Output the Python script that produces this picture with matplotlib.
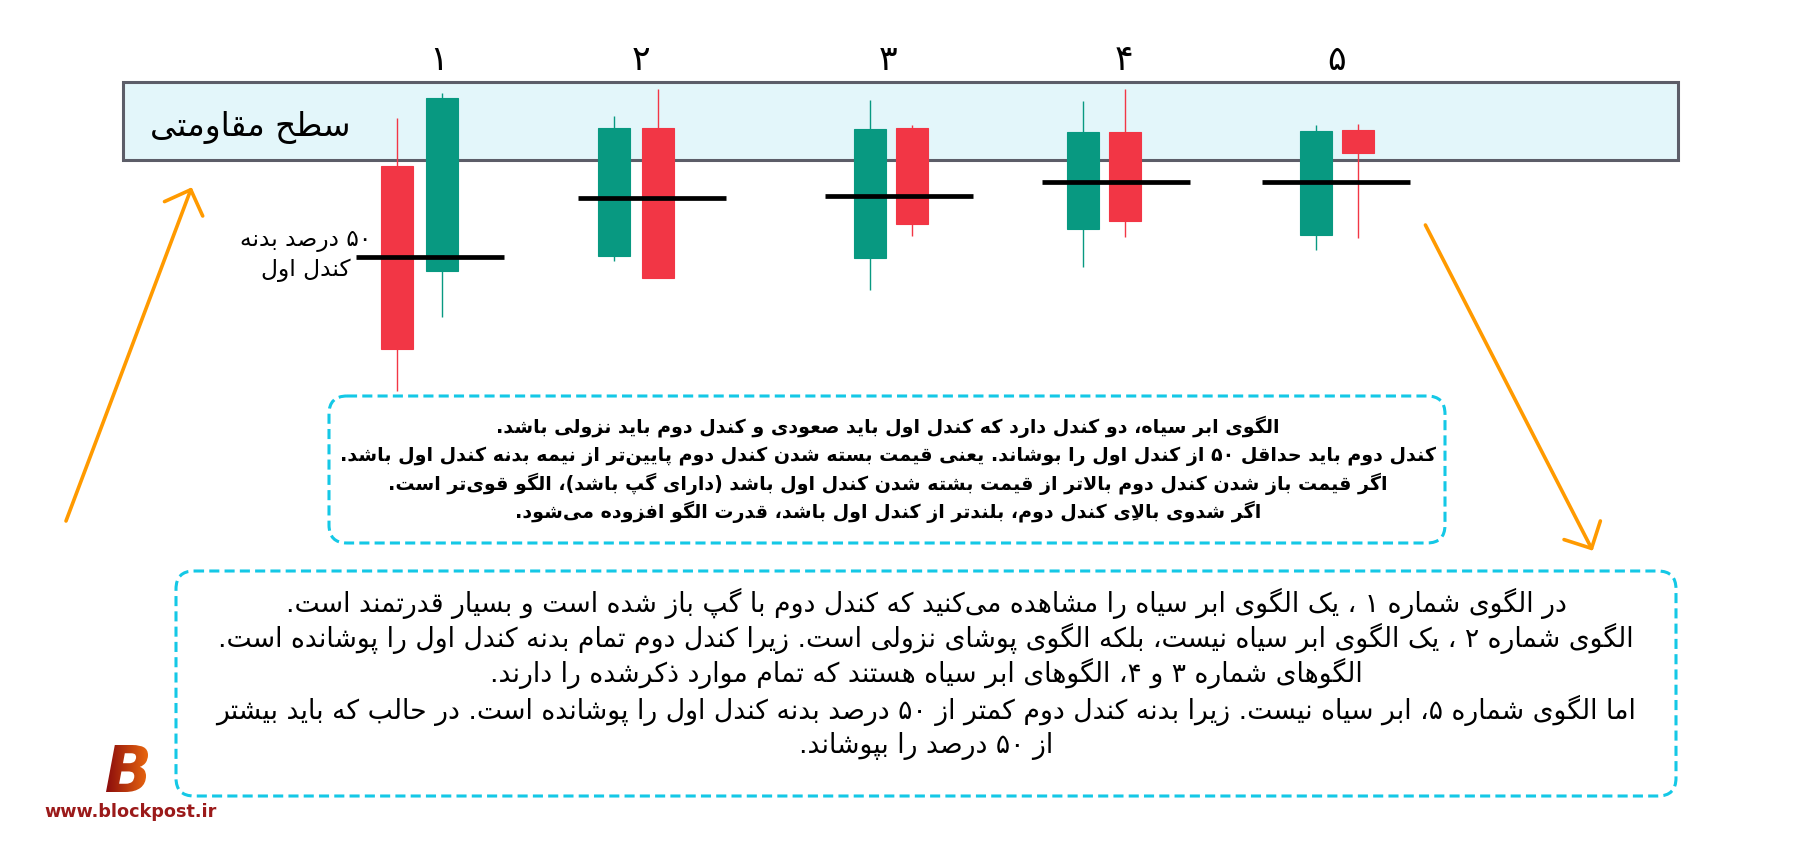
import matplotlib

matplotlib.use("Agg")
import matplotlib.pyplot as plt
import numpy as np
from matplotlib.colors import LinearSegmentedColormap
from matplotlib.font_manager import FontProperties
from matplotlib.patches import FancyArrowPatch, FancyBboxPatch, PathPatch, Rectangle
from matplotlib.textpath import TextPath
from matplotlib.transforms import Affine2D

# --------------------------------------------------------------------- #
# data
# --------------------------------------------------------------------- #
pattern_labels = ["۱", "۲", "۳", "۴", "۵"]
label_x = [439, 641, 888, 1124, 1337]

# two candles per pattern (time axis position, OHLC in price units)
candle_x = [397, 442, 614, 658, 869.5, 911.5, 1082.5, 1124.5, 1315.5, 1357.5]
opens = [997, 944.5, 952, 1016, 951, 1016, 965.5, 1014, 962.5, 1015]
highs = [1021, 1033.5, 1022, 1035.5, 1030, 1017.5, 1029.5, 1035.5, 1017.5, 1018]
lows = [884.5, 921.5, 949.5, 941, 935, 962, 946.5, 961.5, 955, 961]
closes = [905.5, 1031, 1016, 941, 1015.5, 968, 1014, 969.5, 1014.5, 1003.5]

# 50% body level drawn for each pattern
half_level = [951.5, 981, 982, 989, 989]
half_level_x = [430, 652, 898.5, 1115.5, 1336]

resistance = (1000, 1039)
resistance_label = "سطح مقاومتی"
half_label = ["۵۰ درصد بدنه", "کندل اول"]

box1_lines = [
    "الگوی ابر سیاه، دو کندل دارد که کندل اول باید صعودی و کندل دوم باید نزولی باشد.",
    "کندل دوم باید حداقل ۵۰ از کندل اول را بوشاند. یعنی قیمت بسته شدن کندل دوم پایین\u200cتر از نیمه بدنه کندل اول باشد.",
    "اگر قیمت باز شدن کندل دوم بالاتر از قیمت بشته شدن کندل اول باشد (دارای گپ باشد)، الگو قوی\u200cتر است.",
    "اگر شدوی بالایِ کندل دوم، بلندتر از کندل اول باشد، قدرت الگو افزوده می\u200cشود.",
]
box2_lines = [
    "در الگوی شماره ۱ ، یک الگوی ابر سیاه را مشاهده می\u200cکنید که کندل دوم با گپ باز شده است و بسیار قدرتمند است.",
    "الگوی شماره ۲ ، یک الگوی ابر سیاه نیست، بلکه الگوی پوشای نزولی است. زیرا کندل دوم تمام بدنه کندل اول را پوشانده است.",
    "الگوهای شماره ۳ و ۴، الگوهای ابر سیاه هستند که تمام موارد ذکرشده را دارند.",
    "اما الگوی شماره ۵، ابر سیاه نیست. زیرا بدنه کندل دوم کمتر از ۵۰ درصد بدنه کندل اول را پوشانده است. در حالب که باید بیشتر",
    "از ۵۰ درصد را بپوشاند.",
]
site = "www.blockpost.ir"

GREEN = "#089981"
RED = "#f23645"
ORANGE = "#ff9a00"
CYAN = "#14c8e6"

# --------------------------------------------------------------------- #
# helper: minimal arabic/persian shaping + right-to-left ordering
# --------------------------------------------------------------------- #
MARKS = set("\u064b\u064c\u064d\u064e\u064f\u0650\u0651\u0652")
DIGITS = set("0123456789۰۱۲۳۴۵۶۷۸۹")
MIRROR = {"(": ")", ")": "("}
_SPEC = [
    ("\u0622", 0xFE81, 2), ("\u0623", 0xFE83, 2), ("\u0624", 0xFE85, 2), ("\u0625", 0xFE87, 2),
    ("\u0626", 0xFE89, 4), ("\u0627", 0xFE8D, 2), ("\u0628", 0xFE8F, 4), ("\u0629", 0xFE93, 2),
    ("\u062a", 0xFE95, 4), ("\u062b", 0xFE99, 4), ("\u062c", 0xFE9D, 4), ("\u062d", 0xFEA1, 4),
    ("\u062e", 0xFEA5, 4), ("\u062f", 0xFEA9, 2), ("\u0630", 0xFEAB, 2), ("\u0631", 0xFEAD, 2),
    ("\u0632", 0xFEAF, 2), ("\u0633", 0xFEB1, 4), ("\u0634", 0xFEB5, 4), ("\u0635", 0xFEB9, 4),
    ("\u0636", 0xFEBD, 4), ("\u0637", 0xFEC1, 4), ("\u0638", 0xFEC5, 4), ("\u0639", 0xFEC9, 4),
    ("\u063a", 0xFECD, 4), ("\u0641", 0xFED1, 4), ("\u0642", 0xFED5, 4), ("\u0644", 0xFEDD, 4),
    ("\u0645", 0xFEE1, 4), ("\u0646", 0xFEE5, 4), ("\u0647", 0xFEE9, 4), ("\u0648", 0xFEED, 2),
    ("\u067e", 0xFB56, 4), ("\u0686", 0xFB7A, 4), ("\u0698", 0xFB8A, 2), ("\u06a9", 0xFB8E, 4),
    ("\u06af", 0xFB92, 4),
]
FORMS = {"\u0621": ("\ufe80", None, None, None), "\u06cc": ("\ufeef", "\ufef0", "\ufef3", "\ufef4")}
for _ch, _base, _n in _SPEC:
    FORMS[_ch] = tuple([chr(_base + i) for i in range(_n)] + [None] * (4 - _n))
LAM_ALEF = {"\u0627": ("\ufefb", "\ufefc"), "\u0622": ("\ufef5", "\ufef6"),
            "\u0623": ("\ufef7", "\ufef8"), "\u0625": ("\ufef9", "\ufefa")}


def _shape(s):
    chars = list(s.replace("\u064a", "\u06cc").replace("\u0643", "\u06a9"))
    n = len(chars)

    def near(i, step):
        j = i + step
        while 0 <= j < n and chars[j] in MARKS:
            j += step
        return j if 0 <= j < n else None

    out, skip = [], None
    for i, c in enumerate(chars):
        if i == skip or c == "\u200c":
            continue
        if c not in FORMS:
            out.append(c)
            continue
        ip, inx = near(i, -1), near(i, 1)
        prev = chars[ip] if ip is not None else None
        nxt = chars[inx] if inx is not None else None
        jp = prev in FORMS and FORMS[prev][2] is not None
        iso, fin, ini, med = FORMS[c]
        if c == "\u0644" and nxt in LAM_ALEF:
            out.append(LAM_ALEF[nxt][1 if jp else 0])
            skip = inx
            continue
        jn = ini is not None and nxt in FORMS and FORMS[nxt][1] is not None
        out.append(med if jp and jn else fin if jp else ini if jn else iso)
    return out


def fa(s):
    clusters = []
    for g in _shape(s):
        if g in MARKS and clusters:
            clusters[-1] += g
        else:
            clusters.append(g)
    runs = []
    for cl in clusters:
        num = cl[0] in DIGITS
        if runs and runs[-1][0] == num:
            runs[-1][1].append(cl)
        else:
            runs.append((num, [cl]))
    out = []
    for num, cls in reversed(runs):
        out += cls if num else [MIRROR.get(c, c) for c in reversed(cls)]
    return "".join(out)


# --------------------------------------------------------------------- #
# figure: price axes (candles) + layout axes (pixel-like, y down)
# --------------------------------------------------------------------- #
plt.rcParams["font.family"] = ["DejaVu Sans"]
fig = plt.figure(figsize=(18.2, 8.45), dpi=100)
fig.patch.set_facecolor("white")

pax = fig.add_axes([0, 0, 1, 1])
pax.set_xlim(0, 1820)
pax.set_ylim(658, 1080.5)
pax.axis("off")

ax = fig.add_axes([0, 0, 1, 1])
ax.set_xlim(0, 1820)
ax.set_ylim(845, 0)
ax.axis("off")
ax.patch.set_alpha(0)

renderer = fig.canvas.get_renderer()


def fit(lines, width, **kw):
    ws = []
    for s in lines:
        t = ax.text(0, 0, fa(s), fontsize=10, **kw)
        ws.append(t.get_window_extent(renderer).width)
        t.remove()
    return 10 * width / max(ws)


# resistance zone
pax.add_patch(Rectangle((123, resistance[0]), 1555, resistance[1] - resistance[0],
                        facecolor="#e3f6fa", edgecolor="#5c5d68", lw=2.2, zorder=1))

# candles
o = np.array(opens)
c = np.array(closes)
cols = [GREEN if cc >= oo else RED for oo, cc in zip(o, c)]
pax.vlines(candle_x, lows, highs, colors=cols, lw=1.0, zorder=3)
pax.bar(candle_x, np.abs(c - o), bottom=np.minimum(o, c), width=32, color=cols,
        edgecolor=cols, lw=0.8, zorder=4)
for lvl, lx in zip(half_level, half_level_x):
    pax.hlines(lvl, lx - 74, lx + 74, color="black", lw=3.4, zorder=5)

# texts around the chart
for lab, lx in zip(pattern_labels, label_x):
    ax.text(lx, 60, fa(lab), fontsize=25, ha="center", va="center")

fs = fit([resistance_label], 200)
ax.text(250, 127, fa(resistance_label), fontsize=fs, ha="center", va="center")

fs = fit(half_label[:1], 132)
for s, yy in zip(half_label, [241, 270]):
    ax.text(306, yy, fa(s), fontsize=fs, ha="center", va="center")

# arrows
arrow_kw = dict(arrowstyle="->,head_length=0.98,head_width=0.98", mutation_scale=15,
                color=ORANGE, lw=2.6, capstyle="round", shrinkA=0, shrinkB=0, zorder=3)
ax.add_patch(FancyArrowPatch((66, 522), (191.7, 188.3), **arrow_kw))
ax.add_patch(FancyArrowPatch((1425.4, 226), (1592.7, 551.7), **arrow_kw))

# dashed info boxes
for x0, y0, x1, y1 in [(329, 397, 1445, 544), (176, 572, 1676, 797)]:
    ax.add_patch(FancyBboxPatch((x0, y0), x1 - x0, y1 - y0,
                                boxstyle="round,pad=0,rounding_size=18", fill=False,
                                edgecolor=CYAN, lw=2.2, linestyle=(0, (3.3, 1.7))))

fs = fit(box1_lines, 1095, weight="bold")
for s, yy in zip(box1_lines, [427, 456, 484, 512]):
    ax.text(888, yy, fa(s), fontsize=fs, weight="bold", ha="center", va="center")

fs = fit(box2_lines, 1420)
for s, yy in zip(box2_lines, [603, 638, 673, 710, 746]):
    ax.text(926, yy, fa(s), fontsize=fs, ha="center", va="center")

# logo
tp = TextPath((0, 0), "B", size=1, prop=FontProperties(family="DejaVu Sans", weight="bold", style="oblique"))
ext = tp.get_extents()
tr = Affine2D().translate(-ext.x0, -ext.y0).scale(42 / ext.width, -47 / ext.height).translate(106, 793)
logo = PathPatch(tr.transform_path(tp), facecolor="none", edgecolor="none", transform=ax.transData)
ax.add_patch(logo)
im = ax.imshow(np.linspace(0, 1, 64).reshape(1, -1),
               cmap=LinearSegmentedColormap.from_list("logo", ["#8c0c0c", "#e8660f"]),
               extent=(106, 148, 793, 746), aspect="auto", zorder=3)
im.set_clip_path(logo)
ax.set_xlim(0, 1820)
ax.set_ylim(845, 0)

fs = fit([site], 173, weight="bold")
ax.text(130.5, 812, site, fontsize=fs, weight="bold", color="#9b1a1a", ha="center", va="center")

fig.savefig("out.png", dpi=100)
plt.close(fig)
